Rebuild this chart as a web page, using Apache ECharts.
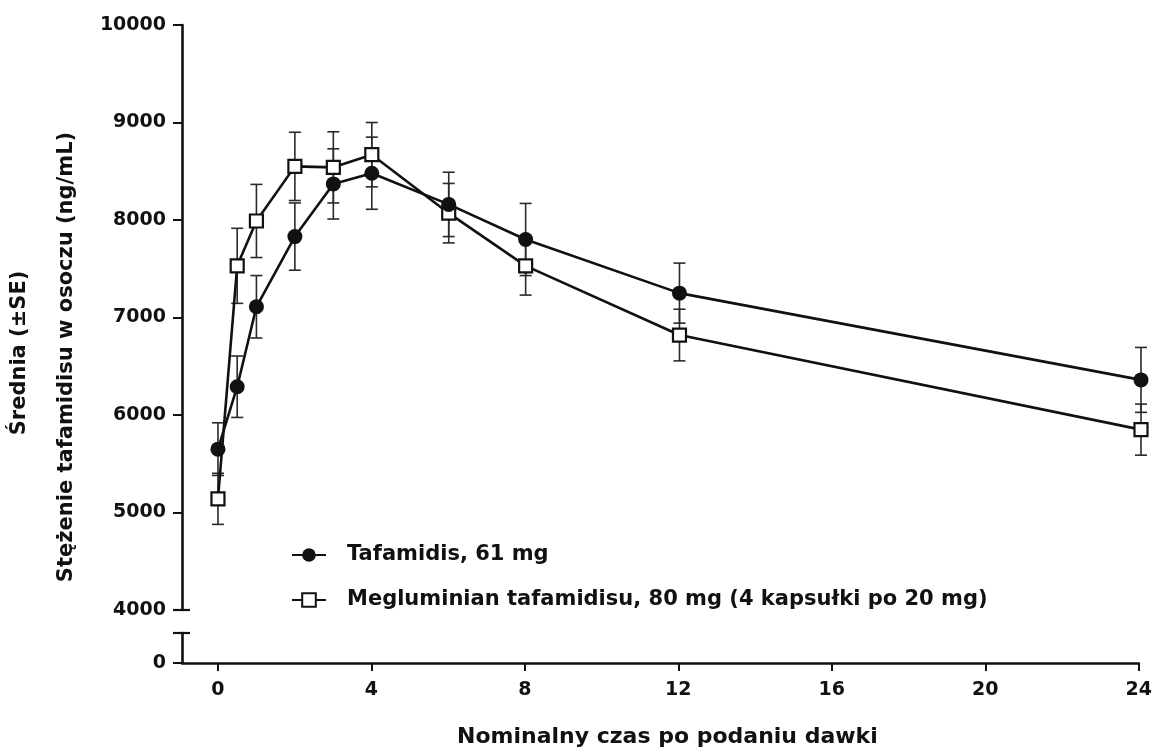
<!DOCTYPE html>
<html>
<head>
<meta charset="utf-8">
<script src="https://cdn.jsdelivr.net/npm/echarts@6/dist/echarts.min.js"></script>
<style>
  html, body { margin: 0; padding: 0; background: #ffffff; }
  #chart { width: 1155px; height: 749px; }
</style>
</head>
<body>
<div id="chart"></div>
<script>
// Nominal sampling times (h) after dosing
const hours = [0, 0.5, 1, 2, 3, 4, 6, 8, 12, 24];

// Mean plasma concentration (ng/mL) and standard error per group
const tafamidisMean = [5650, 6290, 7110, 7830, 8370, 8480, 8160, 7800, 7250, 6360];
const tafamidisSE   = [270, 315, 320, 345, 360, 370, 330, 370, 308, 333];
const meglumineMean = [5140, 7530, 7990, 8550, 8540, 8670, 8070, 7530, 6820, 5850];
const meglumineSE   = [262, 385, 375, 350, 365, 330, 305, 300, 265, 262];

const seriesNames = [
  'Tafamidis, 61 mg',
  'Megluminian tafamidisu, 80 mg (4 kapsułki po 20 mg)'
];

// Axis ticks
const xTicks = [0, 4, 8, 12, 16, 20, 24];
const yTicksUpper = [4000, 5000, 6000, 7000, 8000, 9000, 10000];
const yTicksLower = [0];
// ends of the broken y axis (bottom of upper part, top of lower part)
const breakUpperEnd = 4000;
const breakLowerEnd = 1000;

const xTitle = 'Nominalny czas po podaniu dawki';
const yTitleLines = ['Średnia (±SE)', 'Stężenie tafamidisu w osoczu (ng/mL)'];

const FONT = 'DejaVu Sans';
const INK = '#111111';
const X_MIN = -0.935, X_MAX = 24;

function zip3(a, b, c) { return a.map((v, i) => [v, b[i], c[i]]); }
function zip2(a, b) { return a.map((v, i) => [v, b[i]]); }

function errorBars(params, api) {
  const x = api.value(0), m = api.value(1), se = api.value(2);
  const hi = api.coord([x, m + se]);
  const lo = api.coord([x, m - se]);
  const w = 6;
  const st = { stroke: '#2a2a2a', lineWidth: 1.6 };
  return {
    type: 'group',
    children: [
      { type: 'line', shape: { x1: hi[0], y1: hi[1], x2: lo[0], y2: lo[1] }, style: st },
      { type: 'line', shape: { x1: hi[0] - w, y1: hi[1], x2: hi[0] + w, y2: hi[1] }, style: st },
      { type: 'line', shape: { x1: lo[0] - w, y1: lo[1], x2: lo[0] + w, y2: lo[1] }, style: st }
    ]
  };
}

// T-shaped caps where the y axis is interrupted
function breakCap(params, api) {
  const p = api.coord([api.value(0), api.value(1)]);
  return {
    type: 'group',
    children: [{
      type: 'line',
      shape: { x1: p[0] - 9, y1: p[1], x2: p[0] + 8, y2: p[1] },
      style: { stroke: INK, lineWidth: 2.2 }
    }]
  };
}

const axisLineStyle = { color: INK, width: 2.6 };
const labelStyle = { fontFamily: FONT, fontWeight: 'bold', fontSize: 19, color: INK, formatter: v => String(v) };

const chart = echarts.init(document.getElementById('chart'), null, { renderer: 'canvas' });

chart.setOption({
  animation: false,
  backgroundColor: '#ffffff',
  grid: [
    { left: 182, right: 14, top: 25, height: 585 },
    { left: 182, right: 14, top: 633, height: 31 }
  ],
  xAxis: [
    { gridIndex: 0, type: 'value', min: X_MIN, max: X_MAX, show: false },
    {
      gridIndex: 1, type: 'value', min: X_MIN, max: X_MAX,
      axisLine: { show: true, onZero: false, lineStyle: axisLineStyle },
      axisTick: { show: true, customValues: xTicks, length: 8, lineStyle: { color: INK, width: 2 } },
      axisLabel: { customValues: xTicks, margin: 18, ...labelStyle },
      splitLine: { show: false },
      name: xTitle,
      nameLocation: 'middle',
      nameGap: 63,
      nameTextStyle: { fontFamily: FONT, fontWeight: 'bold', fontSize: 22, color: INK, padding: [0, 0, 0, 14] }
    }
  ],
  yAxis: [
    {
      gridIndex: 0, type: 'value', min: 4000, max: 10000, position: 'left',
      axisLine: { show: true, onZero: false, lineStyle: axisLineStyle },
      axisTick: { show: true, customValues: yTicksUpper, length: 9, lineStyle: { color: INK, width: 2 } },
      axisLabel: { customValues: yTicksUpper, margin: 16, ...labelStyle },
      splitLine: { show: false }
    },
    {
      gridIndex: 1, type: 'value', min: 0, max: 1000, position: 'left',
      axisLine: { show: true, onZero: false, lineStyle: axisLineStyle },
      axisTick: { show: true, customValues: [0], length: 9, lineStyle: { color: INK, width: 2 } },
      axisLabel: { customValues: yTicksLower, margin: 16, ...labelStyle },
      splitLine: { show: false }
    }
  ],
  legend: {
    data: seriesNames,
    orient: 'vertical',
    left: 286,
    top: 539,
    itemWidth: 34,
    itemHeight: 17,
    itemGap: 23,
    selectedMode: false,
    textStyle: { fontFamily: FONT, fontWeight: 'bold', fontSize: 21, lineHeight: 22, color: INK, padding: [0, 0, 0, 16] }
  },
  graphic: [
    {
      type: 'text', x: 20, y: 353, rotation: Math.PI / 2,
      style: { text: yTitleLines[0], fontFamily: FONT, fontWeight: 'bold', fontSize: 21, fill: INK,
               align: 'center', verticalAlign: 'middle' }
    },
    {
      type: 'text', x: 67, y: 357, rotation: Math.PI / 2,
      style: { text: yTitleLines[1], fontFamily: FONT, fontWeight: 'bold', fontSize: 21, fill: INK,
               align: 'center', verticalAlign: 'middle' }
    }
  ],
  series: [
    {
      name: 'break-upper', type: 'custom', xAxisIndex: 0, yAxisIndex: 0, z: 5, clip: false,
      renderItem: breakCap, encode: { x: 0, y: 1 },
      data: [[X_MIN, breakUpperEnd]]
    },
    {
      name: 'break-lower', type: 'custom', xAxisIndex: 1, yAxisIndex: 1, z: 5, clip: false,
      renderItem: breakCap, encode: { x: 0, y: 1 },
      data: [[X_MIN, breakLowerEnd]]
    },
    {
      name: 'se-taf', type: 'custom', xAxisIndex: 0, yAxisIndex: 0, z: 1,
      renderItem: errorBars, encode: { x: 0, y: 1 },
      data: zip3(hours, tafamidisMean, tafamidisSE)
    },
    {
      name: 'se-meg', type: 'custom', xAxisIndex: 0, yAxisIndex: 0, z: 1,
      renderItem: errorBars, encode: { x: 0, y: 1 },
      data: zip3(hours, meglumineMean, meglumineSE)
    },
    {
      name: seriesNames[1], type: 'line', xAxisIndex: 0, yAxisIndex: 0, z: 3,
      data: zip2(hours, meglumineMean),
      symbol: 'rect', symbolSize: 13,
      itemStyle: { color: '#ffffff', borderColor: INK, borderWidth: 2.2 },
      lineStyle: { color: INK, width: 2.6 }
    },
    {
      name: seriesNames[0], type: 'line', xAxisIndex: 0, yAxisIndex: 0, z: 4,
      data: zip2(hours, tafamidisMean),
      symbol: 'circle', symbolSize: 15,
      itemStyle: { color: INK, borderColor: INK, borderWidth: 0 },
      lineStyle: { color: INK, width: 2.6 }
    }
  ]
});
</script>
</body>
</html>
